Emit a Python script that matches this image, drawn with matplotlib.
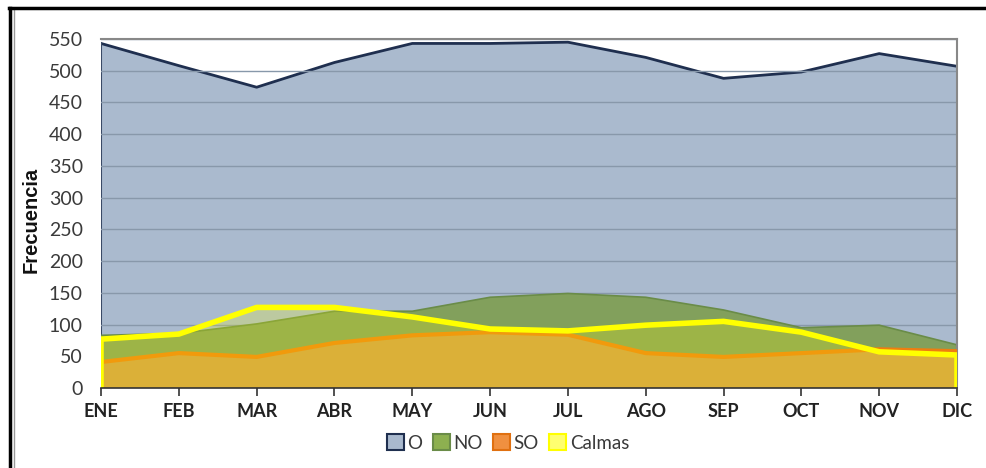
import matplotlib
matplotlib.use("Agg")
import matplotlib.pyplot as plt
from matplotlib.lines import Line2D
from matplotlib.patches import Patch

plt.rcParams['font.family'] = ['Lato', 'DejaVu Sans']

# --- monthly wind frequencies ---
meses = ["ENE", "FEB", "MAR", "ABR", "MAY", "JUN", "JUL", "AGO", "SEP", "OCT", "NOV", "DIC"]
oeste = [543, 508, 474, 513, 543, 543, 545, 521, 488, 498, 527, 507]
noroeste = [83, 86, 101, 121, 121, 143, 149, 143, 123, 95, 99, 68]
suroeste = [41, 55, 49, 71, 83, 88, 84, 55, 49, 55, 61, 58]
calmas = [77, 85, 127, 127, 112, 93, 90, 99, 105, 88, 57, 52]

x = list(range(len(meses)))

fig = plt.figure(figsize=(9.87, 4.68), dpi=100)
fig.patch.set_facecolor("white")
ax = fig.add_axes([101 / 987, 1 - 388 / 468, 856 / 987, 349 / 468])

# --- overlapping areas, back to front ---
ax.fill_between(x, oeste, 0, facecolor="#AABACE", edgecolor="none", zorder=1)
ax.plot(x, oeste, color="#1F2F4F", lw=2, zorder=1.2)
ax.plot([0, 0], [0, oeste[0]], color="#3A4A66", lw=1.5, zorder=1.2)
ax.plot([11, 11], [0, oeste[-1]], color="#1F2F4F", lw=2, zorder=1.2)

for v in range(50, 551, 50):
    ax.axhline(v, color="#8898AA", lw=1, zorder=1.5)

ax.fill_between(x, noroeste, 0, facecolor="#82A05C", edgecolor="none", zorder=2)
ax.plot(x, noroeste, color="#6A8C48", lw=1.2, zorder=2.1)

ax.fill_between(x, suroeste, 0, facecolor="#D19A48", edgecolor="none", zorder=3)
ax.plot(x, suroeste, color="#EE7E10", lw=3, zorder=3.1)

ax.fill_between(x, calmas, 0, facecolor="#FFFF00", alpha=0.22, edgecolor="none", zorder=4)
ax.plot([0] + x + [11], [0] + calmas + [0], color="#FFFF00", lw=4,
        solid_joinstyle="round", zorder=5)

# --- axes styling ---
ax.set_xlim(0, 11)
ax.set_ylim(0, 550)
ax.set_yticks(range(0, 551, 50))
ax.set_xticks(x)
ax.set_xticklabels(meses, fontsize=13, fontweight="bold", color="#222222")
ax.tick_params(axis="x", length=6, width=1.2, color="#333333", pad=5)
ax.tick_params(axis="y", length=0, labelsize=14, labelcolor="#3A3A3A", pad=13)
for s in ["top", "right"]:
    ax.spines[s].set_color("#888888")
    ax.spines[s].set_linewidth(1.5)
ax.spines["left"].set_visible(False)
ax.spines["bottom"].set_color("#333333")
ax.spines["bottom"].set_linewidth(1.2)
ax.spines["bottom"].set_zorder(6)

fig.text(31 / 987, 1 - 220 / 468, "Frecuencia", rotation=90, ha="center", va="center",
         fontsize=14.5, fontweight="bold", family="Liberation Sans", color="#111111")

# --- legend ---
handles = [
    Patch(facecolor="#A9B9CE", edgecolor="#1F2F4F", lw=1.5, label="O"),
    Patch(facecolor="#8DB050", edgecolor="#6A8C48", lw=1.5, label="NO"),
    Patch(facecolor="#F09040", edgecolor="#E07010", lw=1.5, label="SO"),
    Patch(facecolor="#FFFF70", edgecolor="#FFFF00", lw=1.5, label="Calmas"),
]
fig.legend(handles=handles, loc="center", bbox_to_anchor=(508 / 987, 1 - 443 / 468),
           ncol=4, frameon=False, fontsize=13.5, handlelength=0.9, handleheight=0.9,
           handletextpad=0.2, columnspacing=0.55, labelcolor="#3A3A3A")

# --- outer frame ---
fig.add_artist(Line2D([10 / 987, 10 / 987], [0, 1 - 8 / 468], color="black", lw=2.5))
fig.add_artist(Line2D([14 / 987, 14 / 987], [0, 1 - 10 / 468], color="#999999", lw=1))
fig.add_artist(Line2D([9 / 987, 1], [1 - 8 / 468, 1 - 8 / 468], color="black", lw=2.5))

fig.savefig("out.png", dpi=100)
